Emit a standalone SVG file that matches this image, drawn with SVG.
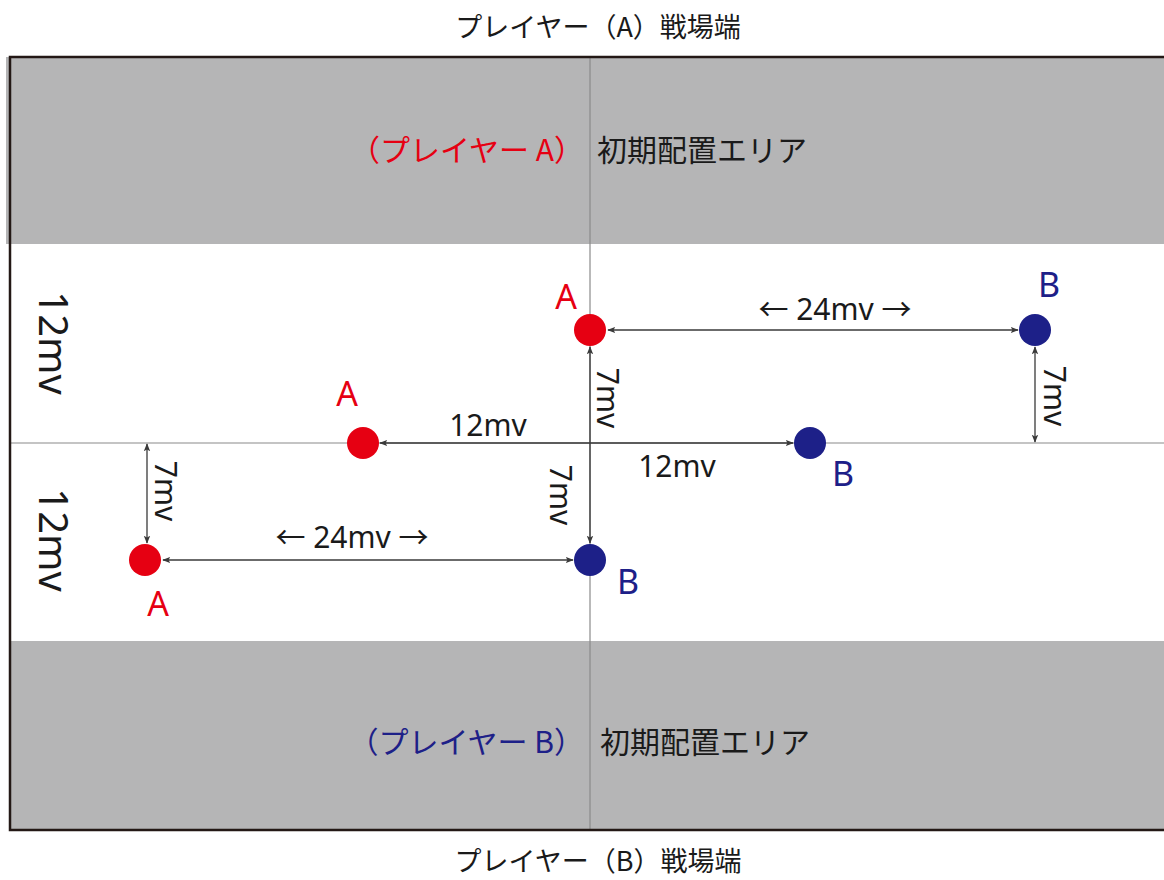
<svg xmlns="http://www.w3.org/2000/svg" width="1164" height="880" viewBox="0 0 1164 880">
<style>
.t{font-family:"Noto Sans CJK JP","Noto Sans","Liberation Sans",sans-serif;}
.lbl{font-family:"Noto Sans","Liberation Sans",sans-serif;font-size:30px;fill:#1a1a1a;}
.side{font-size:40px;}
.arr{font-family:"Noto Sans CJK JP",sans-serif;}
.big{font-family:"Noto Sans","Liberation Sans",sans-serif;font-size:34px;}
.red{fill:#e60012;}
.blue{fill:#1d2088;}
.dim{stroke:#3a3a3a;stroke-width:1.3;fill:none;marker-start:url(#ah);marker-end:url(#ah);}
.guide{stroke:#8a8a8a;stroke-width:1.2;fill:none;}
</style>
<defs>
<marker id="ah" viewBox="0 0 10 10" refX="9" refY="5" markerWidth="8" markerHeight="8" markerUnits="userSpaceOnUse" orient="auto-start-reverse">
<path d="M0,1 L10,5 L0,9 L2,5 Z" fill="#3a3a3a"/>
</marker>
</defs>
<rect width="1164" height="880" fill="#ffffff"/>
<g id="field">
<rect x="6" y="57" width="1158" height="187" fill="#b5b5b6"/>
<rect x="10" y="641" width="1154" height="189" fill="#b5b5b6"/>
<line x1="590" y1="57" x2="590" y2="830" class="guide"/>
<line x1="10" y1="443" x2="1164" y2="443" class="guide"/>
<path d="M1164,57 L10,57 L10,830 L1164,830" fill="none" stroke="#231815" stroke-width="2.5"/>
</g>
<text class="t" x="598" y="37" font-size="27" text-anchor="middle" fill="#1a1a1a">プレイヤー（A）戦場端</text>
<text class="t" x="598" y="871" font-size="27" text-anchor="middle" fill="#1a1a1a">プレイヤー（B）戦場端</text>
<g id="zoneA">
<text class="t red" x="584" y="161" font-size="30" text-anchor="end">（プレイヤー A）</text>
<text class="t" x="597" y="161" font-size="30" fill="#1a1a1a">初期配置エリア</text>
</g>
<g id="zoneB">
<text class="t blue" x="584" y="753" font-size="30" text-anchor="end">（プレイヤー B）</text>
<text class="t" x="600" y="753" font-size="30" fill="#1a1a1a">初期配置エリア</text>
</g>
<g id="connectors">
<line class="dim" x1="608" y1="330" x2="1018" y2="330"/>
<line class="dim" x1="590" y1="347" x2="590" y2="543"/>
<line class="dim" x1="1035" y1="347" x2="1035" y2="442"/>
<line class="dim" x1="380" y1="443" x2="793" y2="443"/>
<line class="dim" x1="147" y1="444" x2="147" y2="543"/>
<line class="dim" x1="163" y1="560" x2="573" y2="560"/>
</g>
<g id="labels">
<text class="lbl" x="835" y="320" text-anchor="middle"><tspan class="arr">←</tspan> 24mv <tspan class="arr">→</tspan></text>
<text class="lbl" x="352" y="548" text-anchor="middle"><tspan class="arr">←</tspan> 24mv <tspan class="arr">→</tspan></text>
<text class="lbl" x="488" y="436" text-anchor="middle">12mv</text>
<text class="lbl" x="677" y="477" text-anchor="middle">12mv</text>
<text class="lbl" transform="translate(597,398) rotate(90)" text-anchor="middle">7mv</text>
<text class="lbl" transform="translate(550,495) rotate(90)" text-anchor="middle">7mv</text>
<text class="lbl" transform="translate(1044,396) rotate(90)" text-anchor="middle">7mv</text>
<text class="lbl" transform="translate(155,491) rotate(90)" text-anchor="middle">7mv</text>
<text class="lbl side" transform="translate(39,343) rotate(90)" text-anchor="middle">12mv</text>
<text class="lbl side" transform="translate(39,540) rotate(90)" text-anchor="middle">12mv</text>
</g>
<g id="A1"><circle cx="590" cy="330" r="16" fill="#e60012"/><text class="big red" x="566" y="309" text-anchor="middle">A</text></g>
<g id="B1"><circle cx="1035" cy="330" r="16" fill="#1d2088"/><text class="big blue" x="1049" y="297" text-anchor="middle">B</text></g>
<g id="A2"><circle cx="363" cy="443" r="16" fill="#e60012"/><text class="big red" x="347" y="406" text-anchor="middle">A</text></g>
<g id="B2"><circle cx="810" cy="443" r="16" fill="#1d2088"/><text class="big blue" x="843" y="486" text-anchor="middle">B</text></g>
<g id="A3"><circle cx="145" cy="560" r="16" fill="#e60012"/><text class="big red" x="158" y="616" text-anchor="middle">A</text></g>
<g id="B3"><circle cx="590" cy="560" r="16" fill="#1d2088"/><text class="big blue" x="628" y="594" text-anchor="middle">B</text></g>
</svg>
